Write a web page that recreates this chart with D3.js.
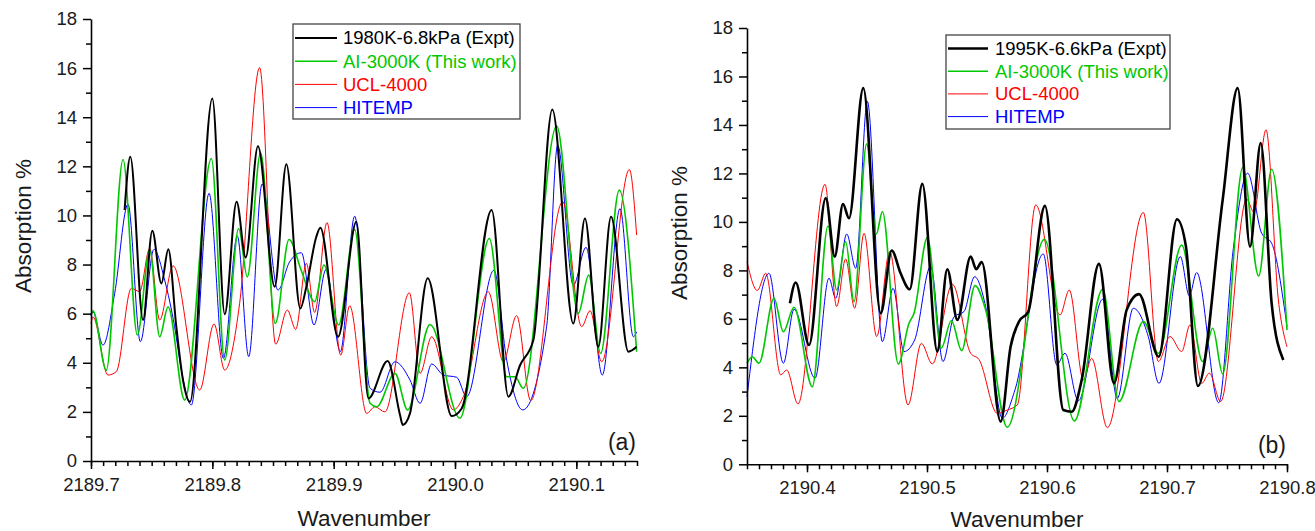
<!DOCTYPE html>
<html>
<head>
<meta charset="utf-8">
<script src="https://cdn.jsdelivr.net/npm/d3@7"></script>
<style>
  body { margin: 0; background: #fff; }
  text { font-family: "Liberation Sans", Arial, sans-serif; }
</style>
</head>
<body>
<div id="chart"></div>
<script>
var svgWidth = 1315;
var svgHeight = 531;

// Panel (a) data: [wavenumber, absorption %]
var exptA = [[2189.7277,10.22],[2189.7324,12.39],[2189.7429,5.74],[2189.7505,9.38],[2189.758,7.23],[2189.7637,8.62],
  [2189.7703,5.47],[2189.7758,3.3],[2189.7816,2.41],[2189.8,14.76],[2189.8102,5.98],[2189.82,10.56],[2189.8275,8.29],
  [2189.8376,12.82],[2189.8514,7.1],[2189.861,12.08],[2189.8725,6.21],[2189.8775,7.1],[2189.8857,9.13],[2189.889,9.5],
  [2189.9036,5.06],[2189.9187,9.74],[2189.9286,2.55],[2189.9445,4.07],[2189.9547,1.87],[2189.9569,1.47],[2189.9629,1.94],
  [2189.9775,7.44],[2189.9973,1.83],[2190.0055,2.14],[2190.0302,10.22],[2190.044,2.62],[2190.0536,3.9],[2190.0646,4.93],
  [2190.0802,14.31],[2190.0975,5.6],[2190.1071,9.88],[2190.1181,4.65],[2190.1286,9.95],[2190.1429,4.45],[2190.1497,4.65]];
var aiA = [[2189.7,5.95],[2189.7016,6.12],[2189.7126,3.7],[2189.7264,12.28],[2189.7382,5.13],[2189.7484,8.59],[2189.7566,5.06],
  [2189.7635,6.28],[2189.7772,2.48],[2189.7992,12.32],[2189.8102,4.11],[2189.8217,9.47],[2189.8288,7.5],[2189.8398,12.55],
  [2189.8519,5.6],[2189.8632,9.02],[2189.8734,7.75],[2189.8843,6.49],[2189.892,7.98],[2189.9041,5.54],[2189.9173,9.43],
  [2189.93,2.35],[2189.9355,2.21],[2189.9505,3.57],[2189.961,2.08],[2189.9794,5.56],[2190.0041,1.74],[2190.0283,9.06],
  [2190.0426,3.43],[2190.0495,3.43],[2190.0563,2.96],[2190.0838,13.64],[2190.1016,6.01],[2190.1102,7.57],[2190.12,4.38],
  [2190.1354,11.03],[2190.1497,4.45]];
var uclA = [[2189.7,5.6],[2189.7016,5.87],[2189.714,3.5],[2189.7209,3.64],[2189.7332,7.03],[2189.7401,6.9],[2189.7484,8.66],
  [2189.7566,5.74],[2189.7676,7.95],[2189.7896,2.89],[2189.8014,5.58],[2189.8102,3.7],[2189.8225,6.42],[2189.839,16.02],
  [2189.8522,4.76],[2189.8618,6.15],[2189.8687,5.36],[2189.8775,8.05],[2189.8843,6.05],[2189.8945,9.71],[2189.9058,4.31],
  [2189.9132,6.32],[2189.9272,1.94],[2189.934,2.21],[2189.9422,2.0],[2189.9624,6.85],[2189.9712,3.57],[2189.9808,5.06],
  [2189.9986,2.08],[2190.0069,2.62],[2190.0275,6.89],[2190.0398,4.04],[2190.0508,5.92],[2190.0624,2.46],[2190.0887,10.56],
  [2190.1044,5.47],[2190.1113,6.12],[2190.1209,4.04],[2190.1437,11.87],[2190.1497,9.2]];
var hitempA = [[2189.7,5.9],[2189.7016,6.08],[2189.7099,4.72],[2189.7195,6.82],[2189.7305,10.46],[2189.7407,4.86],
  [2189.7519,8.62],[2189.7607,7.37],[2189.7689,5.47],[2189.7745,3.7],[2189.7827,2.28],[2189.7973,10.9],[2189.8091,4.18],
  [2189.8206,9.16],[2189.83,4.25],[2189.841,11.28],[2189.8541,6.96],[2189.8637,8.11],[2189.8734,8.48],[2189.8838,5.54],
  [2189.8937,7.8],[2189.9055,4.45],[2189.9173,9.97],[2189.93,2.96],[2189.9382,2.8],[2189.9505,4.04],[2189.9629,3.3],
  [2189.9712,2.35],[2189.9808,3.95],[2189.9904,3.5],[2190.0014,3.41],[2190.0096,2.62],[2190.0321,7.77],[2190.0426,4.11],
  [2190.0558,2.08],[2190.0755,5.47],[2190.0846,12.86],[2190.0975,7.16],[2190.108,8.7],[2190.1214,3.5],[2190.136,10.28],
  [2190.147,5.06],[2190.1497,5.26]];

// Panel (b) data
var exptB = [[2190.3858,6.64],[2190.3906,7.5],[2190.4017,4.92],[2190.4156,10.98],[2190.4231,8.57],[2190.43,10.74],
  [2190.435,10.15],[2190.4469,15.52],[2190.4614,6.23],[2190.4706,8.82],[2190.478,7.88],[2190.4856,7.22],[2190.4961,11.57],
  [2190.5086,4.65],[2190.5169,8.05],[2190.5253,5.96],[2190.5364,8.57],[2190.541,8.05],[2190.5456,8.34],[2190.5614,1.76],
  [2190.5697,4.86],[2190.5767,5.89],[2190.5844,6.3],[2190.5983,10.66],[2190.6136,2.24],[2190.6206,2.17],[2190.6289,3.48],
  [2190.6433,8.27],[2190.6558,3.34],[2190.6664,6.37],[2190.6767,7.02],[2190.6931,4.44],[2190.7083,10.11],[2190.7158,8.98],
  [2190.7258,3.23],[2190.7464,10.91],[2190.7589,15.52],[2190.7692,8.98],[2190.7781,13.25],[2190.7872,6.64],[2190.7969,4.3]];
var aiB = [[2190.35,4.17],[2190.3544,4.44],[2190.36,4.17],[2190.3725,6.85],[2190.3803,5.47],[2190.3892,6.48],[2190.4044,3.2],
  [2190.4175,9.83],[2190.4247,7.19],[2190.4322,9.19],[2190.4392,6.71],[2190.4497,13.22],[2190.4578,9.5],[2190.4628,10.43],
  [2190.4761,4.14],[2190.4850,5.82],[2190.4892,6.23],[2190.5003,9.35],[2190.5119,4.79],[2190.5203,5.93],[2190.5289,4.69],
  [2190.54,7.37],[2190.5489,6.37],[2190.5669,1.53],[2190.5978,9.28],[2190.6228,1.79],[2190.6464,7.22],[2190.66,2.59],
  [2190.6803,5.89],[2190.6928,4.58],[2190.7122,9.05],[2190.7297,4.24],[2190.7381,5.61],[2190.7464,3.73],[2190.7631,12.24],
  [2190.7764,7.77],[2190.7872,12.17],[2190.8,5.54]];
var uclB = [[2190.35,8.36],[2190.3586,7.17],[2190.3656,7.88],[2190.3781,3.69],[2190.3831,3.89],[2190.3925,2.49],
  [2190.415,11.55],[2190.4247,6.51],[2190.4322,8.47],[2190.4397,6.44],[2190.4475,9.53],[2190.4581,5.27],[2190.4689,8.78],
  [2190.4842,2.45],[2190.4953,4.99],[2190.5044,4.14],[2190.5211,7.43],[2190.5364,4.58],[2190.5433,4.33],[2190.5586,2.1],
  [2190.5669,2.24],[2190.5753,2.45],[2190.5906,10.7],[2190.6108,6.16],[2190.6186,7.19],[2190.6303,3.48],[2190.6372,4.37],
  [2190.6503,1.51],[2190.6803,10.39],[2190.6928,4.24],[2190.7025,5.27],[2190.7122,4.65],[2190.7192,5.75],[2190.7289,3.34],
  [2190.7353,3.76],[2190.7447,2.59],[2190.7664,10.94],[2190.7725,10.39],[2190.7825,13.8],[2190.7928,6.78],[2190.8,4.85]];
var hitempB = [[2190.35,2.79],[2190.3683,7.88],[2190.3803,4.17],[2190.3892,6.4],[2190.4067,3.55],[2190.4183,7.68],
  [2190.4239,6.85],[2190.4331,9.5],[2190.4406,8.09],[2190.4503,14.97],[2190.4628,5.06],[2190.4717,7.26],[2190.4808,4.65],
  [2190.4897,5.13],[2190.5031,8.18],[2190.5133,4.24],[2190.5225,6.09],[2190.5308,6.3],[2190.5397,7.74],[2190.5489,6.51],
  [2190.5628,1.9],[2190.5733,3.07],[2190.5969,8.68],[2190.6081,4.1],[2190.615,4.58],[2190.6261,2.62],[2190.6464,6.81],
  [2190.6586,2.72],[2190.6719,6.44],[2190.6844,5.27],[2190.6933,3.34],[2190.7111,8.57],[2190.7186,6.95],[2190.7247,7.91],
  [2190.7431,2.54],[2190.7553,8.91],[2190.7672,12.01],[2190.7789,9.53],[2190.7872,9.12],[2190.8,5.68]];

var yTicks = [0, 2, 4, 6, 8, 10, 12, 14, 16, 18];
var xTicksA = [2189.7, 2189.8, 2189.9, 2190.0, 2190.1];
var xTicksB = [2190.4, 2190.5, 2190.6, 2190.7, 2190.8];
var legendA = ["1980K-6.8kPa (Expt)", "AI-3000K (This work)", "UCL-4000", "HITEMP"];
var legendB = ["1995K-6.6kPa (Expt)", "AI-3000K (This work)", "UCL-4000", "HITEMP"];
var colors = ["#000000", "#00c800", "#ff0000", "#0000ff"];

var svg = d3.select("#chart")
  .append("svg")
  .attr("width", svgWidth)
  .attr("height", svgHeight);

function drawPanel(cfg) {
  var x = d3.scaleLinear().domain(cfg.xDomain).range([cfg.left, cfg.right]);
  var y = d3.scaleLinear().domain([0, 18]).range([cfg.bottom, cfg.top]);

  var g = svg.append("g");

  // lines (drawn in reverse so black sits on top)
  var line = d3.line()
    .x(d => x(d[0]))
    .y(d => y(d[1]))
    .curve(d3.curveMonotoneX);

  cfg.series.slice().reverse().forEach(function(s) {
    g.append("path")
      .datum(s.data)
      .attr("fill", "none")
      .attr("stroke", s.color)
      .attr("stroke-width", s.width)
      .attr("stroke-linejoin", "round")
      .attr("d", line);
  });

  // minor ticks
  var minorX = d3.range(Math.round(cfg.xDomain[0] * 100), Math.round(cfg.xDomain[1] * 100) + 1).map(d => d / 100);
  g.append("g")
    .attr("transform", `translate(0, ${cfg.bottom})`)
    .call(d3.axisBottom(x).tickValues(minorX).tickSize(5).tickSizeOuter(0).tickFormat(""))
    .call(a => a.select(".domain").remove());
  g.append("g")
    .attr("transform", `translate(${cfg.left}, 0)`)
    .call(d3.axisLeft(y).tickValues(d3.range(1, 18, 2)).tickSize(5).tickSizeOuter(0).tickFormat(""))
    .call(a => a.select(".domain").remove());

  // major axes
  g.append("g")
    .attr("transform", `translate(0, ${cfg.bottom})`)
    .call(d3.axisBottom(x).tickValues(cfg.xTicks).tickFormat(d3.format(".1f")).tickSize(8).tickSizeOuter(0).tickPadding(9));
  g.append("g")
    .attr("transform", `translate(${cfg.left}, 0)`)
    .call(d3.axisLeft(y).tickValues(yTicks).tickSize(8).tickSizeOuter(0).tickPadding(6));

  g.selectAll(".tick line").attr("stroke", "#000").attr("stroke-width", 1.5);
  g.selectAll(".domain").attr("stroke", "#000").attr("stroke-width", 1.6);
  g.selectAll(".tick text")
    .attr("font-size", "18.5px")
    .attr("fill", "#1a1a1a")
    .style("font-family", "'Liberation Sans', Arial, sans-serif");

  // axis titles
  g.append("text")
    .attr("x", (cfg.left + cfg.right) / 2)
    .attr("y", cfg.xTitleY)
    .attr("text-anchor", "middle")
    .attr("font-size", "22.5px")
    .attr("fill", "#1a1a1a")
    .text("Wavenumber");

  g.append("text")
    .attr("transform", `translate(${cfg.yTitleX}, ${cfg.yTitleMid}) rotate(-90)`)
    .attr("text-anchor", "middle")
    .attr("font-size", "22.5px")
    .attr("fill", "#1a1a1a")
    .text("Absorption %");

  // panel tag
  g.append("text")
    .attr("x", cfg.right - 1)
    .attr("y", cfg.tagY)
    .attr("text-anchor", "end")
    .attr("font-size", "23px")
    .attr("fill", "#1a1a1a")
    .text(cfg.tag);

  // legend
  var lg = cfg.legend;
  g.append("rect")
    .attr("x", lg.x).attr("y", lg.y)
    .attr("width", lg.w).attr("height", lg.h)
    .attr("fill", "#fff")
    .attr("stroke", "#444")
    .attr("stroke-width", 1.3);
  cfg.series.forEach(function(s, i) {
    var cy = lg.y + lg.first + i * lg.step;
    g.append("line")
      .attr("x1", lg.x + 2).attr("x2", lg.x + lg.lineLen)
      .attr("y1", cy).attr("y2", cy)
      .attr("stroke", s.color)
      .attr("stroke-width", s.width);
    g.append("text")
      .attr("x", lg.x + lg.textX)
      .attr("y", cy)
      .attr("dy", "0.35em")
      .attr("font-size", "18.5px")
      .attr("fill", s.color)
      .text(s.name);
  });
}

drawPanel({
  xDomain: [2189.7, 2190.15],
  xTicks: xTicksA,
  left: 91, right: 637, top: 19, bottom: 461,
  xTitleY: 526, yTitleX: 31, yTitleMid: 226,
  tag: "(a)", tagY: 450,
  legend: { x: 293, y: 24, w: 227, h: 95, first: 14, step: 23.2, lineLen: 44, textX: 50 },
  series: [
    { name: legendA[0], data: exptA, color: colors[0], width: 2 },
    { name: legendA[1], data: aiA, color: colors[1], width: 1.6 },
    { name: legendA[2], data: uclA, color: colors[2], width: 1 },
    { name: legendA[3], data: hitempA, color: colors[3], width: 1 }
  ]
});

drawPanel({
  xDomain: [2190.35, 2190.8],
  xTicks: xTicksB,
  left: 747, right: 1287, top: 28, bottom: 464.3,
  xTitleY: 527, yTitleX: 687, yTitleMid: 233,
  tag: "(b)", tagY: 453,
  legend: { x: 946, y: 35, w: 224, h: 94, first: 13.5, step: 22.7, lineLen: 42, textX: 49 },
  series: [
    { name: legendB[0], data: exptB, color: colors[0], width: 2.6 },
    { name: legendB[1], data: aiB, color: colors[1], width: 1.6 },
    { name: legendB[2], data: uclB, color: colors[2], width: 1 },
    { name: legendB[3], data: hitempB, color: colors[3], width: 1 }
  ]
});
</script>
</body>
</html>
